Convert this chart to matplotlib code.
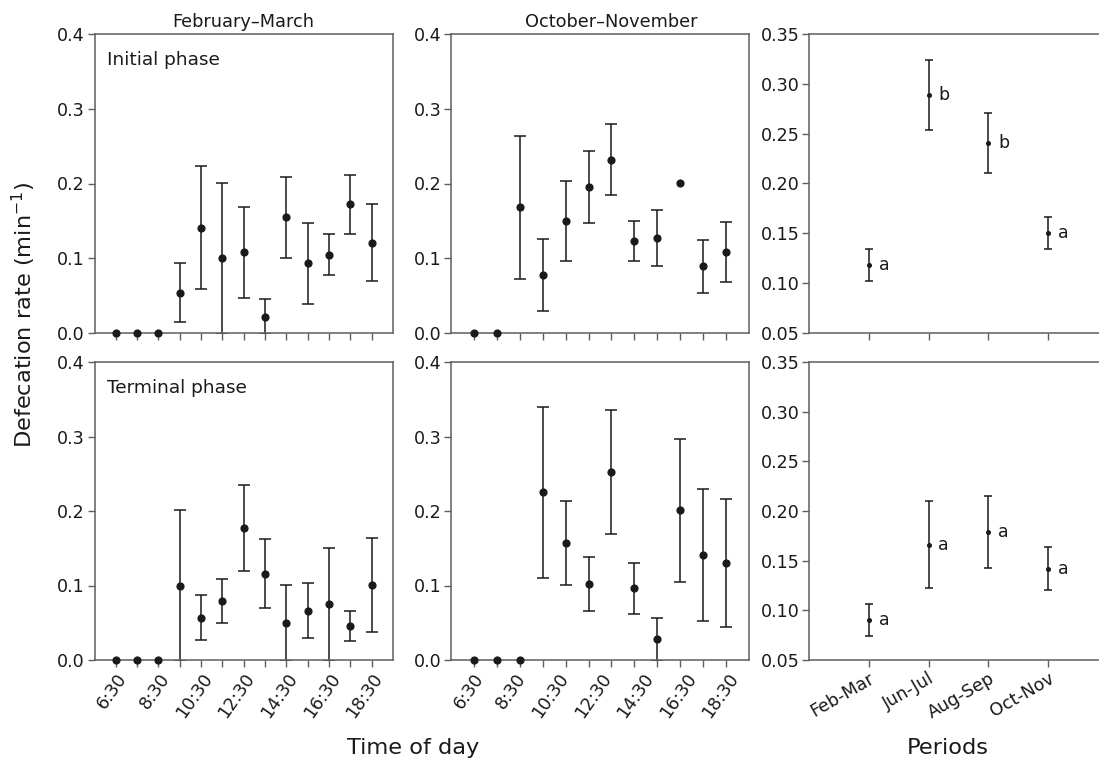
import numpy as np
import matplotlib
matplotlib.use("Agg")
import matplotlib.pyplot as plt

plt.rcParams['font.family'] = ['DejaVu Sans']

# ---------------- data ----------------
times_feb = ['6:30', '7:30', '8:30', '9:30', '10:30', '11:30', '12:30',
             '13:30', '14:30', '15:30', '16:30', '17:30', '18:30']
times_oct = times_feb[:12]
time_labels = ['6:30', '8:30', '10:30', '12:30', '14:30', '16:30', '18:30']

feb_init_mean = [0, 0, 0, 0.054, 0.141, 0.100, 0.108, 0.022, 0.155, 0.093, 0.105, 0.172, 0.121]
feb_init_err = [0, 0, 0, 0.039, 0.082, 0.101, 0.061, 0.023, 0.054, 0.054, 0.027, 0.039, 0.051]
feb_term_mean = [0, 0, 0, 0.100, 0.057, 0.079, 0.177, 0.116, 0.050, 0.066, 0.075, 0.046, 0.101]
feb_term_err = [0, 0, 0, 0.101, 0.030, 0.030, 0.058, 0.046, 0.051, 0.037, 0.076, 0.020, 0.063]

oct_init_mean = [0, 0, 0.168, 0.078, 0.150, 0.195, 0.232, 0.123, 0.127, 0.201, 0.089, 0.108]
oct_init_err = [0, 0, 0.096, 0.048, 0.054, 0.048, 0.047, 0.027, 0.037, 0, 0.035, 0.040]
oct_term_mean = [0, 0, 0, 0.225, 0.157, 0.102, 0.252, 0.096, 0.028, 0.201, 0.141, 0.130]
oct_term_err = [0, 0, 0, 0.115, 0.056, 0.036, 0.083, 0.034, 0.029, 0.096, 0.089, 0.086]

periods = ['Feb-Mar', 'Jun-Jul', 'Aug-Sep', 'Oct-Nov']
init_period_mean = [0.118, 0.289, 0.241, 0.150]
init_period_err = [0.016, 0.035, 0.030, 0.016]
init_letters = ['a', 'b', 'b', 'a']
term_period_mean = [0.090, 0.166, 0.179, 0.142]
term_period_err = [0.016, 0.044, 0.036, 0.022]
term_letters = ['a', 'a', 'a', 'a']

# ---------------- style ----------------
W, H = 1099, 759
fig = plt.figure(figsize=(W / 100, H / 100), dpi=100)

SPINE = '#5e5e5e'
INK = '#1a1a1a'
TICK_FS = 12.6

def fx(px):
    return px / W

def box(x0, x1, ytop, ybot):
    return [fx(x0), 1 - ybot / H, fx(x1 - x0), (ybot - ytop) / H]

rows = [(34, 333), (362, 660)]
cols = [(94.5, 393), (451, 749), (809, 1108)]

def style(ax):
    for s in ax.spines.values():
        s.set_color(SPINE)
        s.set_linewidth(1.1)
    ax.tick_params(axis='both', direction='out', length=5, width=1,
                   color=SPINE, labelsize=TICK_FS, pad=2, labelcolor=INK)

def draw_time(ax, mean, err, n_pts):
    x = np.arange(n_pts)
    mean = np.asarray(mean, float)
    err = np.asarray(err, float)
    m = err > 0
    ax.errorbar(x[m], mean[m], yerr=err[m], fmt='none', ecolor=INK,
                elinewidth=1.1, capsize=4.2, capthick=1.1, zorder=2)
    ax.plot(x, mean, 'o', color=INK, ms=4.9, clip_on=False, zorder=3)
    ax.set_ylim(0, 0.4)
    ax.set_yticks([0, 0.1, 0.2, 0.3, 0.4])
    ax.set_yticklabels(['0.0', '0.1', '0.2', '0.3', '0.4'])
    ax.set_xlim(-1, n_pts)

def draw_period(ax, mean, err, letters):
    x = np.arange(len(periods))
    ax.errorbar(x, mean, yerr=err, fmt='none', ecolor=INK, elinewidth=1.1,
                capsize=2.8, capthick=1.1, zorder=2)
    ax.plot(x, mean, 'o', color=INK, ms=2.6, zorder=3)
    for xi, yi, t in zip(x, mean, letters):
        ax.annotate(t, (xi, yi), xytext=(7, 0), textcoords='offset points',
                    va='center', ha='left', fontsize=12.5, color=INK)
    ax.set_ylim(0.05, 0.35)
    yt = [0.05, 0.10, 0.15, 0.20, 0.25, 0.30, 0.35]
    ax.set_yticks(yt)
    ax.set_yticklabels([f'{v:.2f}' for v in yt])
    ax.set_xlim(-1, len(periods))
    ax.set_xticks(x)

feb_sets = [(feb_init_mean, feb_init_err), (feb_term_mean, feb_term_err)]
oct_sets = [(oct_init_mean, oct_init_err), (oct_term_mean, oct_term_err)]
per_sets = [(init_period_mean, init_period_err, init_letters),
            (term_period_mean, term_period_err, term_letters)]
phase_names = ['Initial phase', 'Terminal phase']

n_feb = len(times_feb)
n_oct = len(times_oct)
# label positions in the Oct-Nov panel follow the Feb-Mar panel spacing
lab_feb = [times_feb.index(t) for t in time_labels]
scale = (n_oct + 1) / (n_feb + 1)
lab_oct = [(p + 1) * scale - 1 for p in lab_feb]

for r, (yt, yb) in enumerate(rows):
    # Feb-Mar
    ax = fig.add_axes(box(cols[0][0], cols[0][1], yt, yb))
    style(ax)
    draw_time(ax, *feb_sets[r], n_feb)
    ax.set_xticks(np.arange(n_feb))
    if r == 1:
        ax.set_xticklabels([t if t in time_labels else '' for t in times_feb],
                           rotation=55, ha='right', rotation_mode='anchor')
    else:
        ax.set_xticklabels([])
    ax.text(0.042, 0.897, phase_names[r], transform=ax.transAxes,
            fontsize=13.3, va='baseline', ha='left', color=INK)
    if r == 0:
        ax.set_title('February\u2013March', fontsize=12.8, pad=5, color=INK)

    # Oct-Nov
    ax = fig.add_axes(box(cols[1][0], cols[1][1], yt, yb))
    style(ax)
    draw_time(ax, *oct_sets[r], n_oct)
    ax.set_xticks(np.arange(n_oct))
    ax.set_xticklabels([])
    if r == 1:
        ax.set_xticks(lab_oct, minor=True)
        ax.set_xticklabels(time_labels, minor=True, rotation=55, ha='right',
                           rotation_mode='anchor')
        ax.tick_params(axis='x', which='minor', length=0, pad=7,
                       labelsize=TICK_FS, labelcolor=INK)
    if r == 0:
        ax.set_title('October\u2013November', fontsize=12.8, pad=5, color=INK,
                     x=0.537)

    # Periods
    ax = fig.add_axes(box(cols[2][0], cols[2][1], yt, yb))
    style(ax)
    draw_period(ax, *per_sets[r])
    if r == 1:
        ax.set_xticklabels(periods, rotation=30, ha='right',
                           rotation_mode='anchor')
    else:
        ax.set_xticklabels([])

fig.text(fx(24), 1 - 315 / H, 'Defecation rate (min$^{-1}$)', rotation=90,
         ha='center', va='center', fontsize=16.2, color=INK)
fig.text(fx(413), 1 - 748 / H, 'Time of day', ha='center', va='center',
         fontsize=16.2, color=INK)
fig.text(fx(948), 1 - 748 / H, 'Periods', ha='center', va='center',
         fontsize=16.2, color=INK)

fig.savefig('out.png', dpi=100)
